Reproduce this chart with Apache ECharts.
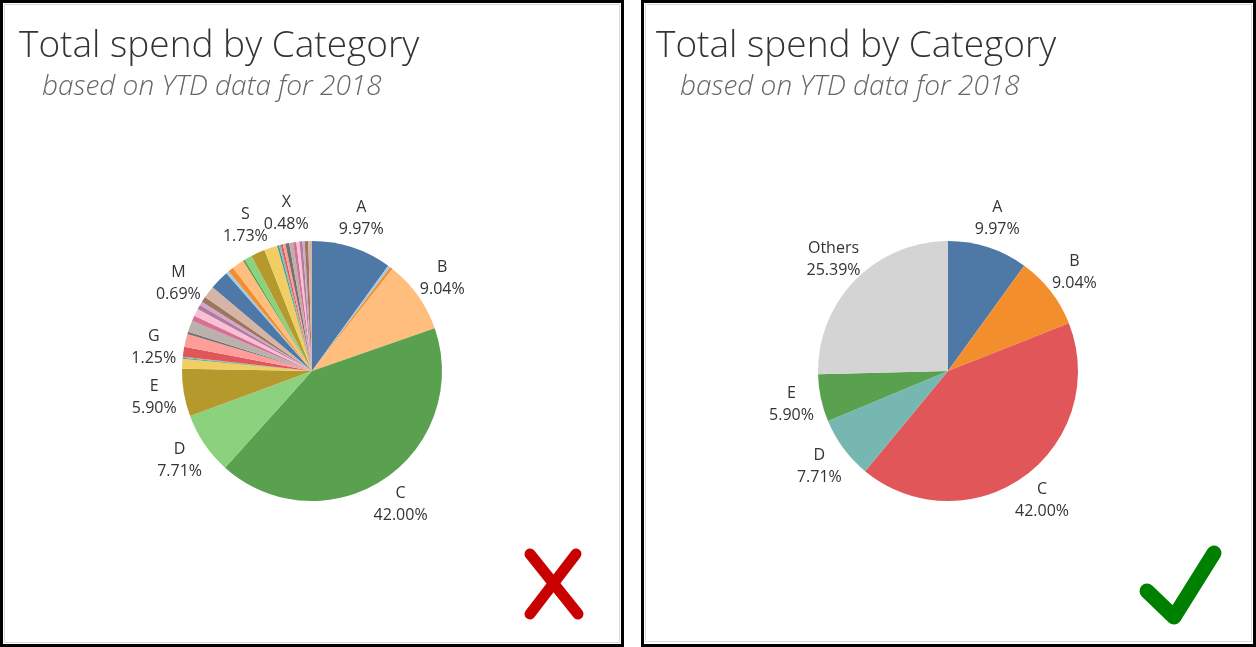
<!DOCTYPE html>
<html>
<head>
<meta charset="utf-8">
<script src="https://cdn.jsdelivr.net/npm/echarts@6/dist/echarts.min.js"></script>
<style>
html,body{margin:0;padding:0;background:#fff;}
#chart{width:1256px;height:647px;}
</style>
</head>
<body>
<div id="chart"></div>
<script>
// ---- Data ----
const titleText = 'Total spend by Category';
const subtitleText = 'based on YTD data for 2018';

// Left pie: every category (percent of total spend)
const leftNames = ['A','F','H','B','C','D','E','I','J','K','G','L','N','O','P','Q','R','T','M','U',
                   'V','W','Y','Z','AA','AB','S','AC','AD','AE','AF','AG','AH','X','AI','AJ','AK','AL','AM','AN'];
const leftValues = [9.97,0.30,0.35,9.04,42.00,7.71,5.90,1.23,0.13,0.12,1.25,1.60,0.29,1.43,0.67,0.91,0.56,0.47,0.69,1.53,
                    2.40,0.35,0.70,1.50,0.25,0.95,1.73,1.65,0.22,0.22,0.27,0.33,0.47,0.48,0.40,0.40,0.36,0.27,0.44,0.46];
const leftLabeled = ['A','B','C','D','E','G','M','S','X'];

// Right pie: top five + Others
const rightNames = ['A','B','C','D','E','Others'];
const rightValues = [9.97,9.04,42.00,7.71,5.90,25.39];

// Palettes
const tableau20 = ['#4E79A7','#A0CBE8','#F28E2B','#FFBE7D','#59A14F','#8CD17D','#B6992D','#F1CE63','#499894','#86BCB6',
                   '#E15759','#FF9D9A','#79706E','#BAB0AC','#D37295','#FABFD2','#B07AA1','#D4A6C8','#9D7660','#D7B5A6'];
const rightPalette = ['#4E79A7','#F28E2B','#E15759','#76B7B2','#59A14F','#D4D4D4'];

// ---- Chart ----
const chart = echarts.init(document.getElementById('chart'), null, {renderer:'canvas'});

const labelCommon = {
  show: true,
  position: 'outside',
  alignTo: 'none',
  distanceToLabelLine: 0,
  formatter: p => '{n|' + p.name + '}\n{p|' + p.value.toFixed(2) + '%}',
  rich: {
    n: {fontSize: 16, lineHeight: 22, color: '#333', align: 'center', fontFamily: 'Open Sans'},
    p: {fontSize: 16, lineHeight: 22, color: '#333', align: 'center', fontFamily: 'Open Sans'}
  }
};
const labelLineCommon = {show: false, length: 30, length2: 0};

const leftData = leftNames.map((n, i) => ({
  name: n, value: leftValues[i],
  itemStyle: {color: tableau20[i % tableau20.length]},
  label: {show: leftLabeled.indexOf(n) >= 0}
}));
const rightData = rightNames.map((n, i) => ({
  name: n, value: rightValues[i],
  itemStyle: {color: rightPalette[i]}
}));

const titleStyle = {fontSize: 37, fontWeight: 300, color: '#333', fontFamily: 'Open Sans'};
const subStyle = {fontSize: 28, fontStyle: 'italic', fontWeight: 300, color: '#666', fontFamily: 'Open Sans'};

const option = {
  backgroundColor: '#fff',
  animation: false,
  title: [
    {text: titleText, left: 19, top: 28, padding: 0, textStyle: titleStyle},
    {text: subtitleText, left: 42, top: 73, padding: 0, textStyle: subStyle},
    {text: titleText, left: 656, top: 28, padding: 0, textStyle: titleStyle},
    {text: subtitleText, left: 680, top: 73, padding: 0, textStyle: subStyle}
  ],
  graphic: [
    {type: 'rect', shape: {x: 1.5, y: 1.5, width: 621, height: 644}, style: {fill: 'none', stroke: '#000', lineWidth: 3}, silent: true},
    {type: 'rect', shape: {x: 4.5, y: 4.5, width: 615, height: 638}, style: {fill: 'none', stroke: '#d9d9d9', lineWidth: 1}, silent: true},
    {type: 'rect', shape: {x: 642.5, y: 1.5, width: 612, height: 644}, style: {fill: 'none', stroke: '#000', lineWidth: 3}, silent: true},
    {type: 'rect', shape: {x: 645.5, y: 4.5, width: 606, height: 637}, style: {fill: 'none', stroke: '#d9d9d9', lineWidth: 1}, silent: true},
    // red cross
    {type: 'line', shape: {x1: 530, y1: 554, x2: 578, y2: 614}, style: {stroke: '#C80000', lineWidth: 11, lineCap: 'round'}, silent: true},
    {type: 'line', shape: {x1: 576, y1: 554, x2: 530, y2: 614}, style: {stroke: '#C80000', lineWidth: 11, lineCap: 'round'}, silent: true},
    // green check
    {type: 'polyline', shape: {points: [[1147, 591], [1174, 617], [1214, 553]]}, style: {stroke: '#008000', lineWidth: 15, lineCap: 'round', lineJoin: 'round', fill: 'none'}, silent: true}
  ],
  series: [
    {
      type: 'pie',
      center: [312, 371],
      radius: 130,
      startAngle: 90,
      clockwise: true,
      avoidLabelOverlap: false,
      itemStyle: {borderWidth: 0},
      label: labelCommon,
      labelLine: labelLineCommon,
      labelLayout: () => ({align: 'center'}),
      emphasis: {disabled: true},
      data: leftData
    },
    {
      type: 'pie',
      center: [948, 371],
      radius: 130,
      startAngle: 90,
      clockwise: true,
      avoidLabelOverlap: false,
      itemStyle: {borderWidth: 0},
      label: labelCommon,
      labelLine: labelLineCommon,
      labelLayout: () => ({align: 'center'}),
      emphasis: {disabled: true},
      data: rightData
    }
  ]
};
chart.setOption(option);
</script>
</body>
</html>
